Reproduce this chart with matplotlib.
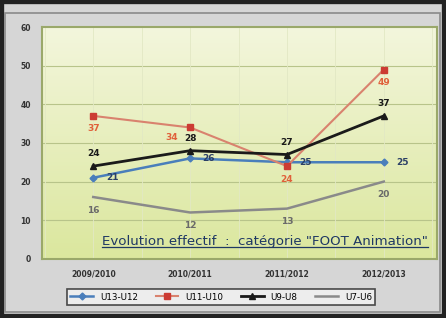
import matplotlib
matplotlib.use("Agg")
import matplotlib.pyplot as plt
import numpy as np
from matplotlib.patches import Rectangle
from matplotlib.lines import Line2D

seasons = ["2009/2010", "2010/2011", "2011/2012", "2012/2013"]
u13_u12 = [21, 26, 25, 25]
u11_u10 = [37, 34, 24, 49]
u9_u8 = [24, 28, 27, 37]
u7_u6 = [16, 12, 13, 20]
y_ticks = [0, 10, 20, 30, 40, 50, 60]

fig = plt.figure(figsize=(4.46, 3.18), dpi=100)
fig.patch.set_facecolor("#d6d6d6")

# outer frame
fig.patches.append(Rectangle((0, 0), 1, 1, transform=fig.transFigure, fill=False,
                             edgecolor="#222222", linewidth=6))
fig.patches.append(Rectangle((0.012, 0.02), 0.975, 0.94, transform=fig.transFigure,
                             fill=False, edgecolor="#8a8a8a", linewidth=1.2))

ax = fig.add_axes([0.094, 0.186, 0.886, 0.729])
x = np.arange(len(seasons))

# plot area gradient
grad = np.linspace(0, 1, 100).reshape(-1, 1)
cmap = matplotlib.colors.LinearSegmentedColormap.from_list("bg", ["#f3f6dc", "#dbe79e"])
ax.imshow(grad, aspect="auto", cmap=cmap, extent=[-0.53, 3.55, 0, 60], origin="upper", zorder=0)

ax.set_xlim(-0.53, 3.55)
ax.set_ylim(0, 60)
ax.set_yticks(y_ticks)
ax.set_xticks(x)
ax.set_xticklabels(seasons)
ax.tick_params(length=0, labelsize=5.5, colors="#333333", pad=8)
for t in ax.get_xticklabels() + ax.get_yticklabels():
    t.set_fontweight("bold")
for v in y_ticks[1:-1]:
    ax.axhline(v, color="#b8c48a", linewidth=0.8, zorder=1)
for v in np.arange(-0.5, 3.6, 0.5):
    ax.axvline(v, color="#e2e8c4", linewidth=0.6, zorder=1)
for s in ax.spines.values():
    s.set_color("#9aa86a")
    s.set_linewidth(1.5)

ax.plot(x, u7_u6, color="#8a8a8a", linewidth=1.8, label="U7-U6", zorder=3)
ax.plot(x, u13_u12, color="#4a7ebb", linewidth=1.8, marker="D", markersize=3.5, label="U13-U12", zorder=4)
ax.plot(x, u11_u10, color="#d9826e", linewidth=1.5, marker="s", markersize=4.5,
        markerfacecolor="#cc3b33", markeredgecolor="#cc3b33", label="U11-U10", zorder=4)
ax.plot(x, u9_u8, color="#1a1a1a", linewidth=2, marker="^", markersize=5, label="U9-U8", zorder=5)

lab = dict(fontsize=6.5, fontweight="bold", zorder=6)
for i in x:
    if i == 1:
        # crowded point: put the red label to the left
        ax.text(i - 0.12, u11_u10[i] - 2.5, str(u11_u10[i]), color="#e0603a",
                va="center", ha="right", **lab)
    else:
        ax.text(i, u11_u10[i] - 2.2, str(u11_u10[i]), color="#e0603a", va="top", ha="center", **lab)
    ax.text(i, u9_u8[i] + 2, str(u9_u8[i]), color="#1a1a1a", va="bottom", ha="center", **lab)
    ax.text(i + 0.13, u13_u12[i], str(u13_u12[i]), color="#2b3f66", va="center", ha="left", **lab)
    ax.text(i, u7_u6[i] - 2.2, str(u7_u6[i]), color="#6a6a6a", va="top", ha="center", **lab)

title = ax.text(0.565, 0.045, 'Evolution effectif  :  catégorie "FOOT Animation"',
                transform=ax.transAxes, ha="center", va="bottom", fontsize=9.6,
                color="#1f3864", zorder=7)
fig.canvas.draw()
bb = title.get_window_extent().transformed(ax.transAxes.inverted())
ax.add_line(Line2D([bb.x0, bb.x1], [bb.y0 + 0.004, bb.y0 + 0.004], transform=ax.transAxes,
                   color="#1f3864", linewidth=0.9, zorder=7))

handles, labels = ax.get_legend_handles_labels()
order = [1, 2, 3, 0]
leg = fig.legend([handles[i] for i in order], [labels[i] for i in order],
                 loc="center", bbox_to_anchor=(0.496, 0.066), ncol=4, fontsize=6.3,
                 frameon=True, fancybox=False, edgecolor="#222222", facecolor="#f4f4f4",
                 handlelength=2.6, columnspacing=2.0, borderpad=0.4)
leg.get_frame().set_linewidth(1.2)

fig.savefig("out.png", dpi=100, facecolor=fig.get_facecolor())
